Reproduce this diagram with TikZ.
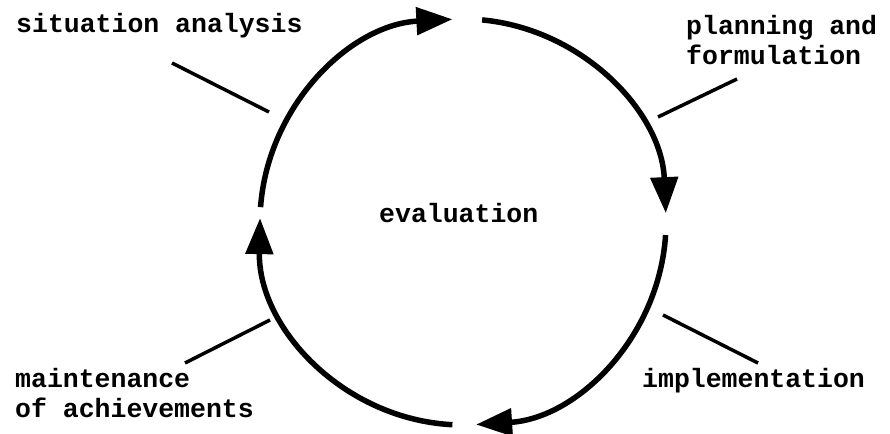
\documentclass[tikz,border=0pt]{standalone}
\usepackage{fontspec}
\setmainfont{Liberation Mono}[BoldFont={Liberation Mono Bold}]
\usetikzlibrary{arrows.meta}

\begin{document}
\begin{tikzpicture}[x=1pt,y=1pt]
      \tikzstyle{every node}+=[inner sep=0pt,font=\fontsize{26.5}{30}\selectfont\bfseries]
      \tikzstyle{phase}=[line width=5.5pt,-{Triangle[length=36pt,width=27pt]}]
      \tikzstyle{leader}=[line width=3.5pt]
      \useasboundingbox (0,0) rectangle (890,433);
      \coordinate (c) at (463,211);
      % cycle arcs
      \draw [phase] (c) ++(84.6:203) arc [start angle=84.6, end angle=2.5, radius=203];
      \draw [phase] (c) ++(-3.7:203) arc [start angle=-3.7, end angle=-86.3, radius=203];
      \draw [phase] (c) ++(-93:203) arc [start angle=-93, end angle=-181.1, radius=203];
      \draw [phase] (c) ++(-184.2:203) arc [start angle=-184.2, end angle=-267, radius=203];
      % labels
      \node [anchor=base west] (sit) at (16,400) {situation analysis};
      \node [anchor=base west,align=left] (plan) at (686,368) {planning and\\formulation};
      \node [anchor=base west] (impl) at (642,45) {implementation};
      \node [anchor=base west,align=left] (main) at (15,15) {maintenance\\of achievements};
      \node [anchor=base west] (eval) at (379,210) {evaluation};
      % leaders
      \coordinate (sit1) at (172,370);
      \coordinate (sit2) at (269,321);
      \coordinate (plan1) at (737,354);
      \coordinate (plan2) at (658,316);
      \coordinate (main1) at (185,70);
      \coordinate (main2) at (270,113);
      \coordinate (impl1) at (758,70);
      \coordinate (impl2) at (663,118);
      \draw [leader] (sit1) -- (sit2);
      \draw [leader] (plan1) -- (plan2);
      \draw [leader] (main1) -- (main2);
      \draw [leader] (impl1) -- (impl2);
\end{tikzpicture}
\end{document}
